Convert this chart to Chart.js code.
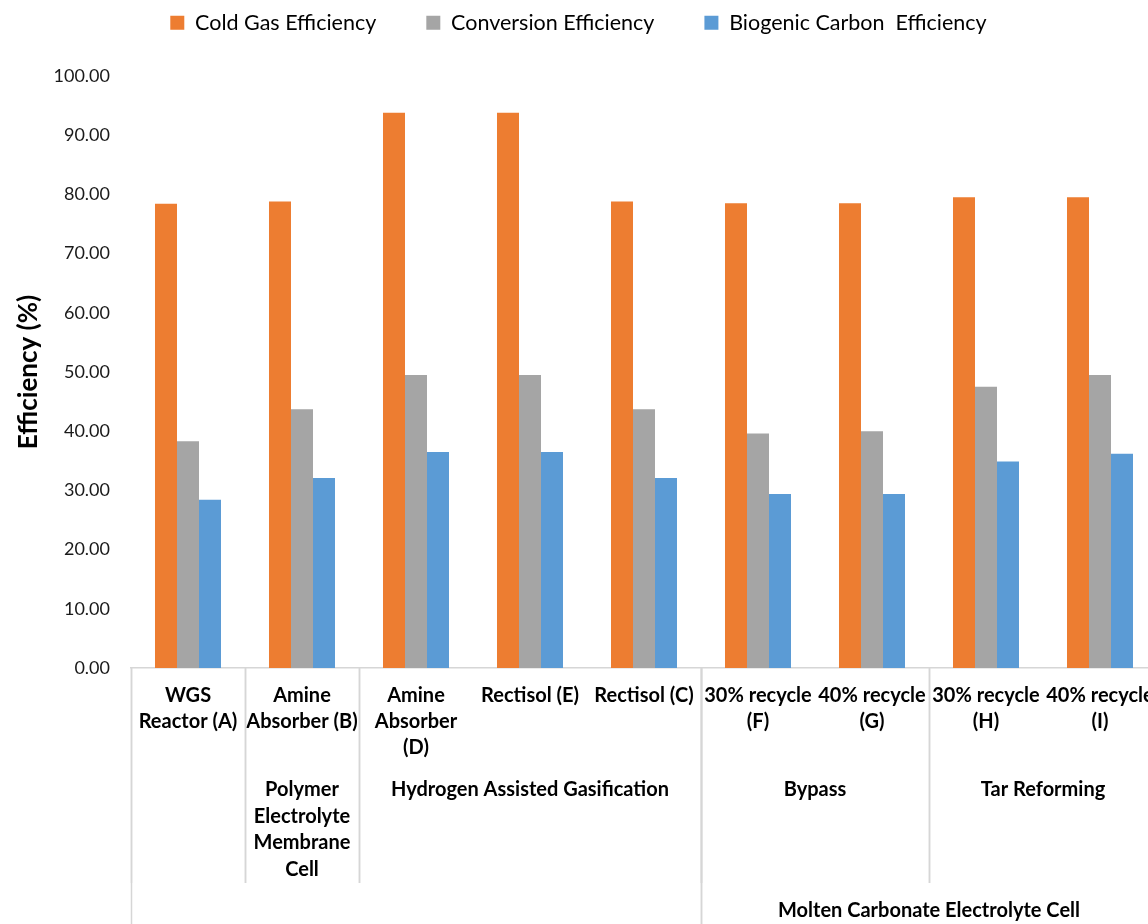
<!DOCTYPE html>
<html>
<head>
<meta charset="utf-8">
<script src="https://cdn.jsdelivr.net/npm/chart.js@4.4.0/dist/chart.umd.min.js"></script>
<style>
  html, body { margin: 0; padding: 0; background: #fff; overflow: hidden; }
  #wrap { position: relative; width: 1160px; height: 924px; }
  canvas { display: block; }
</style>
</head>
<body>
<div id="wrap"><canvas id="chart" width="1160" height="924"></canvas></div>
<script>
// Process configurations (first level of the category axis)
const categories = [
  ["WGS", "Reactor (A)"],
  ["Amine", "Absorber (B)"],
  ["Amine", "Absorber", "(D)"],
  ["Rectisol (E)"],
  ["Rectisol (C)"],
  ["30% recycle", "(F)"],
  ["40% recycle", "(G)"],
  ["30% recycle", "(H)"],
  ["40% recycle", "(I)"]
];

// Efficiencies in percent
const coldGasEfficiency    = [78.4, 78.8, 93.8, 93.8, 78.8, 78.5, 78.5, 79.5, 79.5];
const conversionEfficiency = [38.3, 43.7, 49.5, 49.5, 43.7, 39.6, 40.0, 47.5, 49.5];
const biogenicCarbonEff    = [28.4, 32.1, 36.5, 36.5, 32.1, 29.4, 29.4, 34.9, 36.2];

const seriesNames = ["Cold Gas Efficiency", "Conversion Efficiency", "Biogenic Carbon  Efficiency"];

// Second level of the category axis: [first index, last index, label lines]
const subGroups = [
  [0, 0, []],
  [1, 1, ["Polymer", "Electrolyte", "Membrane", "Cell"]],
  [2, 4, ["Hydrogen Assisted Gasification"]],
  [5, 6, ["Bypass"]],
  [7, 8, ["Tar Reforming"]]
];

// Third level of the category axis
const topGroups = [
  [0, 4, []],
  [5, 8, ["Molten Carbonate Electrolyte Cell"]]
];

const yMin = 0, yMax = 100, yStep = 10;

const FONT = "Lato, 'Open Sans', 'Liberation Sans', sans-serif";
const SEP_COLOR = "#d6d6d6";

// Draws the outer category levels and their separators under the axis
const groupedAxis = {
  id: "groupedAxis",
  afterDraw(chart) {
    const x = chart.scales.x;
    const ctx = chart.ctx;
    const half = (x.getPixelForValue(1) - x.getPixelForValue(0)) / 2;
    const axisY = chart.chartArea.bottom;
    const levelTwoBottom = axisY + 215;
    const canvasBottom = chart.height;
    const edge = i => x.getPixelForValue(i);

    ctx.save();
    ctx.strokeStyle = SEP_COLOR;
    ctx.lineWidth = 1.5;
    const vline = (px, y1, y2) => {
      ctx.beginPath();
      ctx.moveTo(Math.round(px) + 0.5, y1);
      ctx.lineTo(Math.round(px) + 0.5, y2);
      ctx.stroke();
    };
    subGroups.forEach(([a, b]) => {
      vline(edge(a) - half, axisY, levelTwoBottom);
      vline(edge(b) + half, axisY, levelTwoBottom);
    });
    topGroups.forEach(([a, b]) => {
      vline(edge(a) - half, axisY, canvasBottom);
      vline(edge(b) + half, axisY, canvasBottom);
    });

    ctx.fillStyle = "#000";
    ctx.font = "bold 20px " + FONT;
    ctx.textAlign = "center";
    ctx.textBaseline = "middle";
    const lh = 26.4;
    subGroups.forEach(([a, b, lines]) => {
      const cx = (edge(a) + edge(b)) / 2;
      lines.forEach((t, k) => ctx.fillText(t, cx, axisY + 122 + k * lh));
    });
    topGroups.forEach(([a, b, lines]) => {
      const cx = (edge(a) + edge(b)) / 2;
      lines.forEach((t, k) => ctx.fillText(t, cx, axisY + 243 + k * lh));
    });
    ctx.restore();
  }
};

// Reserves a fixed band above the plot for the legend
const legendBand = {
  id: "legendBand",
  beforeInit(chart) {
    const fit = chart.legend.fit;
    chart.legend.fit = function () {
      fit.call(this);
      this.height = 114;
    };
  }
};

new Chart(document.getElementById("chart"), {
  type: "bar",
  data: {
    labels: categories,
    datasets: [
      { label: seriesNames[0], data: coldGasEfficiency,    backgroundColor: "#ED7D31" },
      { label: seriesNames[1], data: conversionEfficiency, backgroundColor: "#A5A5A5" },
      { label: seriesNames[2], data: biogenicCarbonEff,    backgroundColor: "#5B9BD5" }
    ]
  },
  options: {
    responsive: false,
    animation: false,
    devicePixelRatio: 1,
    layout: { padding: { top: -38, right: 3, bottom: 0, left: 0 } },
    datasets: { bar: { categoryPercentage: 0.579, barPercentage: 1.0, borderWidth: 0 } },
    plugins: {
      legend: {
        position: "top",
        labels: {
          font: { family: FONT, size: 21.5 },
          color: "#000",
          boxWidth: 14,
          boxHeight: 14,
          padding: 50
        }
      },
      tooltip: { enabled: false }
    },
    scales: {
      x: {
        grid: { display: false, drawTicks: false },
        border: { display: true, color: SEP_COLOR, width: 1.5 },
        ticks: {
          font: { family: FONT, size: 20, weight: "bold", lineHeight: 1.32 },
          color: "#000",
          maxRotation: 0,
          autoSkip: false,
          padding: 14
        },
        afterFit(scale) {
          scale.height = 256;
          scale.paddingLeft = 0;
          scale.paddingRight = 0;
        }
      },
      y: {
        min: yMin,
        max: yMax,
        grid: { display: false, drawTicks: false },
        border: { display: false },
        ticks: {
          stepSize: yStep,
          font: { family: FONT, size: 18 },
          color: "#1a1a1a",
          padding: 21,
          callback: v => Number(v).toFixed(2)
        },
        title: {
          display: true,
          text: "Efficiency (%)",
          font: { family: FONT, size: 26, weight: "bold" },
          color: "#000",
          padding: { top: 13, bottom: 0 }
        },
        afterFit(scale) { scale.width = 131; }
      }
    }
  },
  plugins: [legendBand, groupedAxis]
});
</script>
</body>
</html>
